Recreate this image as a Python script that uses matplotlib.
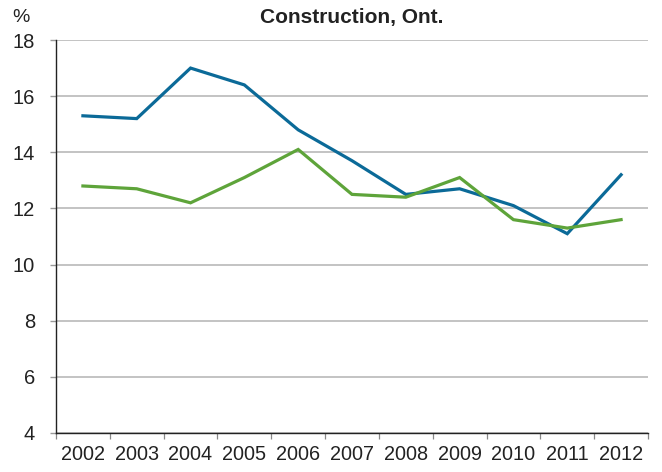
import matplotlib
matplotlib.use("Agg")
import matplotlib.pyplot as plt
import numpy as np

years = ["2002", "2003", "2004", "2005", "2006", "2007", "2008", "2009", "2010", "2011", "2012"]
blue_values = [15.3, 15.2, 17.0, 16.4, 14.8, 13.7, 12.5, 12.7, 12.1, 11.1, 13.2]
green_values = [12.8, 12.7, 12.2, 13.1, 14.1, 12.5, 12.4, 13.1, 11.6, 11.3, 11.6]
y_ticks = [4, 6, 8, 10, 12, 14, 16, 18]

plt.rcParams['font.family'] = ['Liberation Sans', 'DejaVu Sans']

fig = plt.figure(figsize=(6.62, 4.72), dpi=100)
L, R, T, B = 56, 648, 40, 433
ax = fig.add_axes([L/662, 1 - B/472, (R - L)/662, (B - T)/472])

x = np.arange(len(years))
ax.plot(x, blue_values, color="#0b6a98", lw=2.3, solid_joinstyle='miter')
ax.plot(x, green_values, color="#5ea43a", lw=2.3, solid_joinstyle='miter')

ax.set_xlim(-0.5, len(years) - 0.5)
ax.set_ylim(4, 18)
ax.set_yticks(y_ticks)
ax.set_yticklabels([str(t) for t in y_ticks], fontsize=14.5, color="#222222")
ax.grid(axis='y', color="#b3b3b3", lw=1.1)
ax.set_axisbelow(True)

ax.set_xticks(x)
ax.set_xticklabels(years, fontsize=14.3, color="#222222")
ax.set_xticks(np.arange(-0.5, len(years)), minor=True)
ax.tick_params(axis='x', which='major', length=0, pad=9)
ax.tick_params(axis='x', which='minor', length=4, color="#888888", width=0.9)
ax.tick_params(axis='y', length=4, color="#999999", width=1.0, pad=11)

for s in ['top', 'right']:
    ax.spines[s].set_visible(False)
ax.spines['left'].set_color("#222222")
ax.spines['bottom'].set_color("#222222")
ax.spines['left'].set_linewidth(1.0)
ax.spines['bottom'].set_linewidth(1.0)

fig.text((L + R) / 2 / 662, 1 - 18/472, "Construction, Ont.", ha='center', va='center',
         fontsize=15, fontweight='bold', color="#222222")
fig.text(12/662, 1 - 17/472, "%", ha='left', va='center', fontsize=14, color="#222222")

fig.savefig("out.png", dpi=100)
